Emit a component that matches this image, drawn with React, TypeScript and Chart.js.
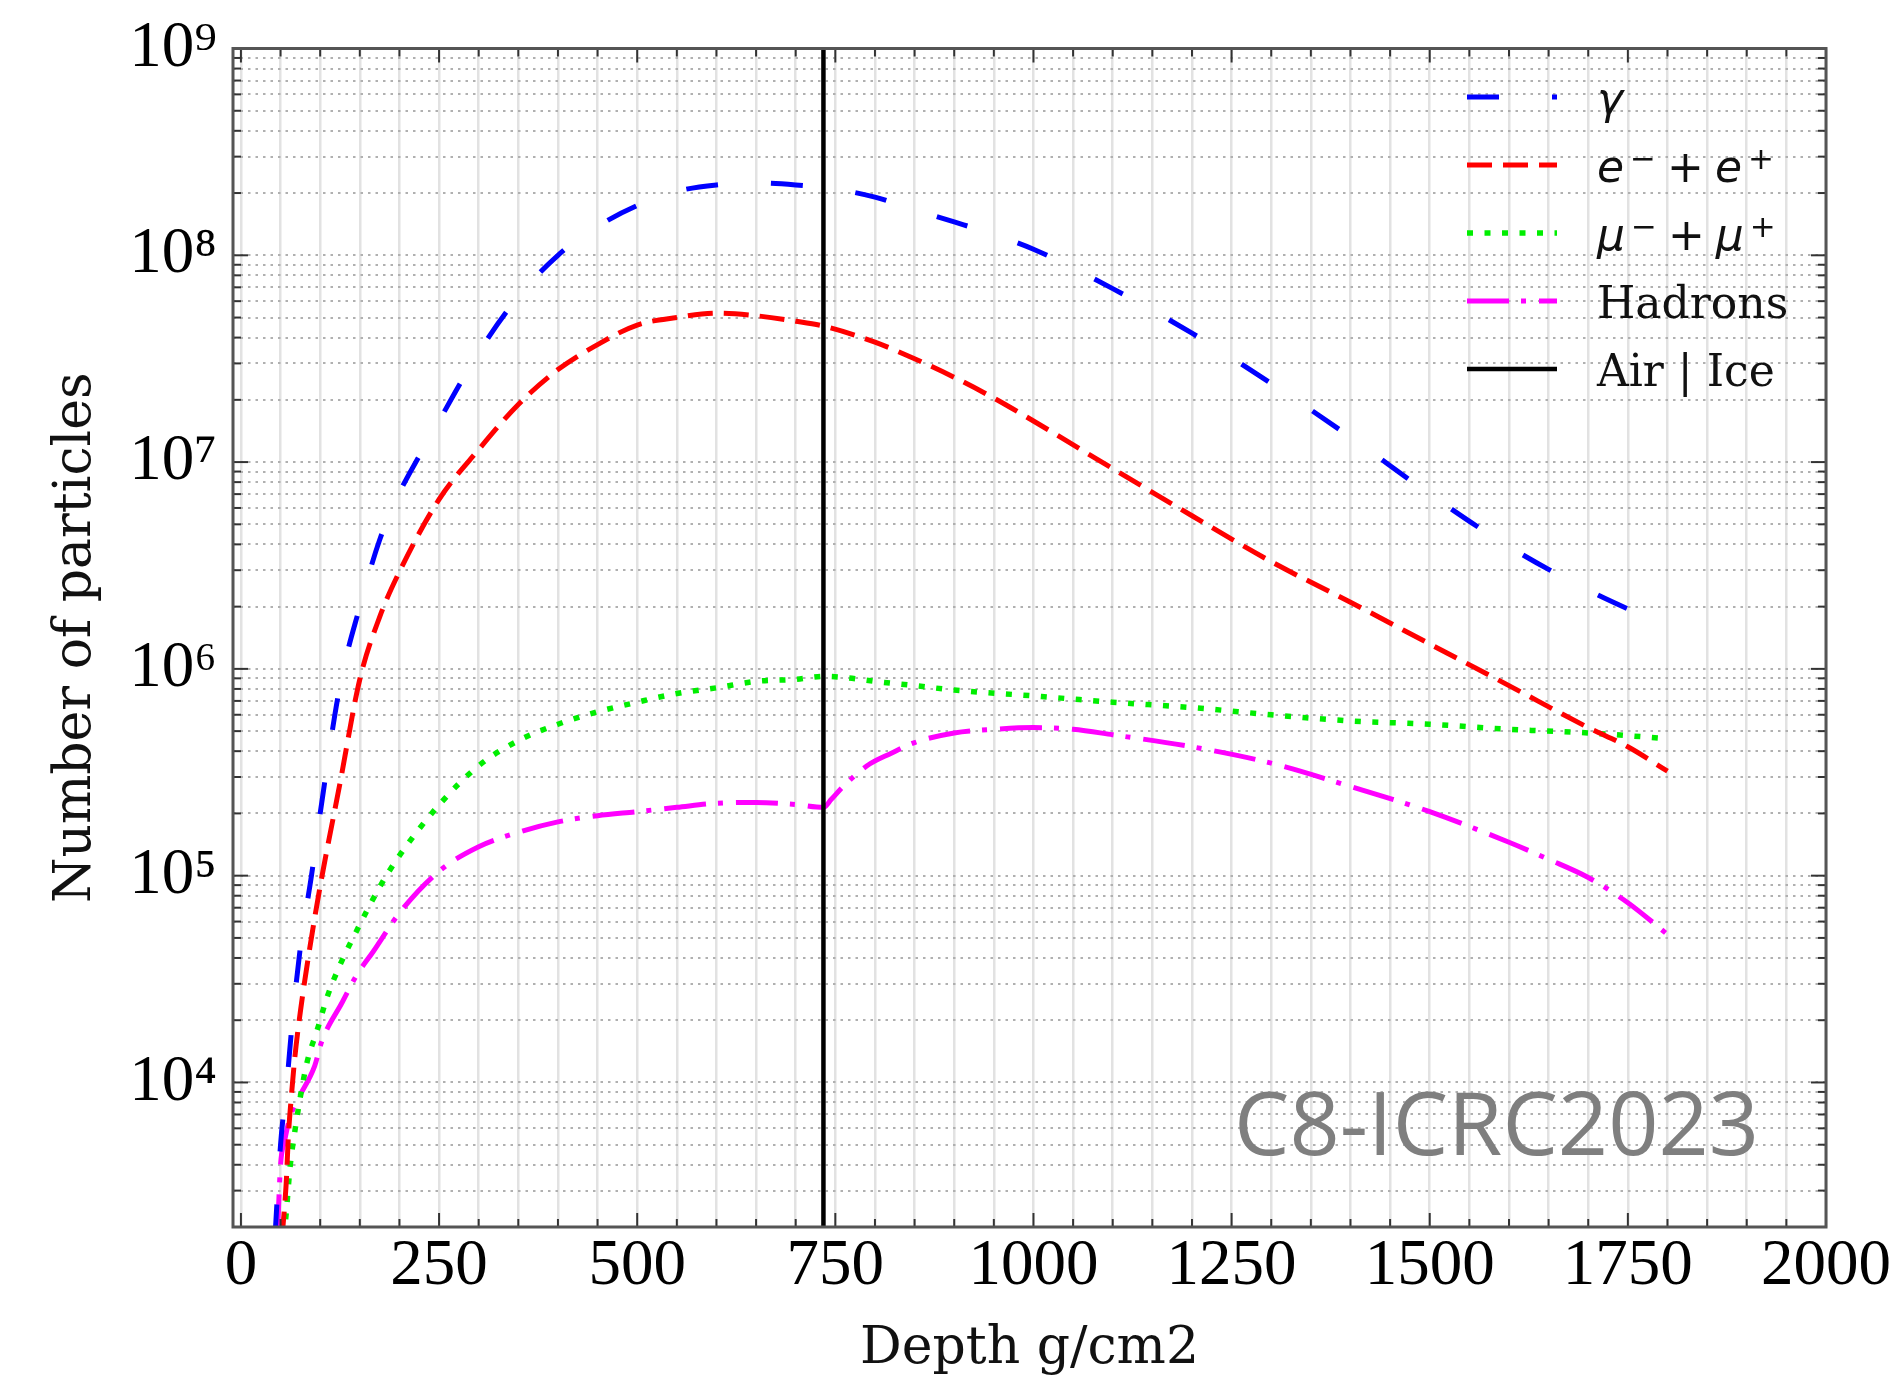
import React, { useEffect, useRef } from 'react';
import { Chart, registerables } from 'chart.js';

Chart.register(...registerables);

// ---------------- data ----------------
const gammaDepth = [43, 50, 58, 65, 75, 89, 100, 125, 150, 175, 200, 225, 250, 275, 300, 350, 400, 450, 500, 550, 600, 650, 700, 750, 800, 850, 900, 950, 1000, 1100, 1200, 1300, 1400, 1500, 1600, 1700, 1800];
const gammaCount = [1.8e3, 5.0e3, 1.0e4, 2.0e4, 4.5e4, 1.0e5, 2.0e5, 8.3e5, 2.0e6, 4.2e6, 7.1e6, 1.07e7, 1.58e7, 2.34e7, 3.4e7, 6.3e7, 1.0e8, 1.38e8, 1.74e8, 2.04e8, 2.19e8, 2.24e8, 2.19e8, 2.09e8, 1.91e8, 1.66e8, 1.45e8, 1.26e8, 1.07e8, 6.9e7, 4.2e7, 2.4e7, 1.32e7, 7.0e6, 3.9e6, 2.4e6, 1.6e6];

const electronDepth = [52, 57, 60, 64, 68, 75, 87, 100, 125, 150, 175, 200, 250, 300, 350, 400, 450, 500, 550, 600, 650, 700, 740, 800, 850, 900, 950, 1000, 1100, 1200, 1300, 1400, 1500, 1600, 1700, 1750, 1800];
const electronCount = [1.8e3, 3.2e3, 5.6e3, 8.9e3, 1.32e4, 2.2e4, 4.5e4, 8.9e4, 2.8e5, 8.9e5, 1.78e6, 2.95e6, 6.6e6, 1.15e7, 1.9e7, 2.8e7, 3.7e7, 4.6e7, 5.0e7, 5.25e7, 5.1e7, 4.8e7, 4.5e7, 3.8e7, 3.16e7, 2.57e7, 2.04e7, 1.58e7, 9.3e6, 5.5e6, 3.3e6, 2.1e6, 1.32e6, 8.3e5, 5.2e5, 4.2e5, 3.2e5];

const muonDepth = [53, 56, 62, 68, 83, 96, 109, 125, 150, 175, 200, 250, 300, 350, 400, 450, 500, 550, 600, 650, 700, 735, 760, 800, 850, 900, 1000, 1100, 1200, 1300, 1400, 1500, 1600, 1700, 1800];
const muonCount = [1.8e3, 2.1e3, 3.9e3, 5.8e3, 1.23e4, 1.78e4, 2.6e4, 3.7e4, 5.8e4, 8.8e4, 1.25e5, 2.2e5, 3.4e5, 4.5e5, 5.4e5, 6.2e5, 6.9e5, 7.6e5, 8.1e5, 8.7e5, 8.9e5, 9.2e5, 9.1e5, 8.7e5, 8.3e5, 7.9e5, 7.4e5, 6.9e5, 6.5e5, 6.0e5, 5.6e5, 5.4e5, 5.1e5, 4.9e5, 4.6e5];

const hadronDepth = [46, 50, 55, 62, 72, 93, 102, 128, 146, 167, 200, 250, 300, 350, 400, 450, 500, 550, 600, 650, 700, 735, 745, 760, 790, 820, 850, 900, 950, 1000, 1050, 1100, 1200, 1300, 1400, 1500, 1600, 1650, 1700, 1750, 1800];
const hadronCount = [1.8e3, 4.0e3, 5.2e3, 6.8e3, 8.3e3, 1.2e4, 1.58e4, 2.45e4, 3.3e4, 4.3e4, 6.6e4, 1.05e5, 1.38e5, 1.62e5, 1.82e5, 1.95e5, 2.04e5, 2.14e5, 2.24e5, 2.26e5, 2.21e5, 2.14e5, 2.34e5, 2.7e5, 3.4e5, 3.9e5, 4.4e5, 4.9e5, 5.1e5, 5.2e5, 5.1e5, 4.8e5, 4.2e5, 3.5e5, 2.7e5, 2.04e5, 1.45e5, 1.2e5, 9.8e4, 7.4e4, 5.2e4];

const airIceDepth = 735;

const seriesLabels = ['γ', 'e^- + e^+', 'μ^- + μ^+', 'Hadrons', 'Air | Ice'];

const xTickValues = [0, 250, 500, 750, 1000, 1250, 1500, 1750, 2000];
const xTickLabels = ['0', '250', '500', '750', '1000', '1250', '1500', '1750', '2000'];
const yMajorValues = [1e4, 1e5, 1e6, 1e7, 1e8, 1e9];
const yTickLabels = ['10⁴', '10⁵', '10⁶', '10⁷', '10⁸', '10⁹'];

const X_MIN = -10;
const X_MAX = 2000;
const Y_MIN = 2000;
const Y_MAX = 1e9;

const xAxisTitle = 'Depth g/cm2';
const yAxisTitle = 'Number of particles';
const watermark = 'C8-ICRC2023';

// ---------------- helpers ----------------
const toPoints = (xs: number[], ys: number[]) => xs.map((x, i) => ({ x, y: ys[i] }));

const xMinorValues: number[] = [];
for (let v = 0; v <= 2000; v += 50) xMinorValues.push(v);

const yAllValues: number[] = [];
for (let e = 3; e <= 9; e++) {
  for (let m = 1; m <= 9; m++) {
    const v = m * Math.pow(10, e);
    if (v >= Y_MIN && v <= Y_MAX) yAllValues.push(v);
  }
}
const isYMajor = (v: number) => {
  const l = Math.log10(v);
  return Math.abs(l - Math.round(l)) < 1e-9;
};

function drawMathLabel(ctx: CanvasRenderingContext2D, text: string, x: number, baseline: number) {
  let cx = x;
  for (let i = 0; i < text.length; i++) {
    const ch = text[i];
    if (ch === '^') {
      const s = text[++i];
      const sup = s === '-' ? '−' : s;
      ctx.font = '31px "DejaVu Sans"';
      cx += 6;
      ctx.fillText(sup, cx, baseline - 13);
      cx += ctx.measureText(sup).width;
      continue;
    }
    if (ch === ' ') {
      cx += 11;
      continue;
    }
    if (ch === '+') {
      ctx.font = '44px "DejaVu Sans"';
      ctx.fillText('+', cx, baseline);
      cx += ctx.measureText('+').width;
      continue;
    }
    ctx.font = 'italic 44px "DejaVu Sans"';
    ctx.fillText(ch, cx, baseline);
    cx += ctx.measureText(ch).width;
  }
}

const framePlugin = {
  id: 'frameTicksLegend',
  afterDatasetsDraw(chart: any) {
    const { ctx, chartArea: a, scales } = chart;
    const xs = scales.x;
    const ys = scales.y;
    ctx.save();
    ctx.strokeStyle = '#333';
    ctx.lineWidth = 2;
    ctx.setLineDash([]);
    const seg = (x1: number, y1: number, x2: number, y2: number) => {
      ctx.beginPath();
      ctx.moveTo(x1, y1);
      ctx.lineTo(x2, y2);
      ctx.stroke();
    };
    xs.ticks.forEach((t: any) => {
      const px = xs.getPixelForValue(t.value);
      if (px < a.left - 0.5 || px > a.right + 0.5) return;
      const len = xTickValues.includes(t.value) ? 14 : 8;
      seg(px, a.bottom, px, a.bottom - len);
      seg(px, a.top, px, a.top + len);
    });
    ys.ticks.forEach((t: any) => {
      const py = ys.getPixelForValue(t.value);
      if (py < a.top - 0.5 || py > a.bottom + 0.5) return;
      const len = isYMajor(t.value) ? 15 : 8;
      seg(a.left, py, a.left + len, py);
      seg(a.right, py, a.right - len, py);
    });
    ctx.strokeStyle = '#555';
    ctx.lineWidth = 3;
    ctx.strokeRect(a.left, a.top, a.right - a.left, a.bottom - a.top);
    ctx.restore();
  },
  afterDraw(chart: any) {
    const { ctx } = chart;
    ctx.save();
    // legend
    const lineX0 = 1467;
    const lineX1 = 1557;
    const textX = 1597;
    const rowY0 = 97;
    const rowStep = 68;
    chart.data.datasets.forEach((ds: any, i: number) => {
      const y = rowY0 + i * rowStep;
      ctx.save();
      ctx.strokeStyle = ds.borderColor;
      ctx.lineWidth = ds.borderWidth;
      ctx.lineCap = 'butt';
      ctx.setLineDash(ds.borderDash || []);
      ctx.beginPath();
      ctx.moveTo(lineX0, y);
      ctx.lineTo(lineX1, y);
      ctx.stroke();
      ctx.restore();
      ctx.fillStyle = '#111';
      ctx.textBaseline = 'alphabetic';
      ctx.textAlign = 'left';
      const label: string = ds.label;
      if (/[\^γμ]/.test(label)) {
        drawMathLabel(ctx, label, textX, y + 17);
      } else {
        ctx.font = '44px "DejaVu Serif"';
        ctx.fillText(label, textX, y + 17);
      }
    });
    // watermark
    ctx.font = '88px "Open Sans"';
    ctx.fillStyle = '#7f7f7f';
    ctx.textAlign = 'left';
    ctx.textBaseline = 'alphabetic';
    ctx.fillText(watermark, 1234, 1155);
    ctx.restore();
  },
};

export default function App() {
  const ref = useRef<HTMLCanvasElement>(null);

  useEffect(() => {
    const canvas = ref.current;
    if (!canvas) return;
    const common = {
      pointRadius: 0,
      pointHoverRadius: 0,
      fill: false,
      borderCapStyle: 'butt',
      cubicInterpolationMode: 'monotone',
    };
    const chart = new Chart(canvas, {
      type: 'line',
      data: {
        datasets: [
          { ...common, label: seriesLabels[0], data: toPoints(gammaDepth, gammaCount), borderColor: '#0000ff', borderWidth: 5, borderDash: [32, 53] },
          { ...common, label: seriesLabels[1], data: toPoints(electronDepth, electronCount), borderColor: '#ff0000', borderWidth: 5, borderDash: [25, 11] },
          { ...common, label: seriesLabels[2], data: toPoints(muonDepth, muonCount), borderColor: '#00ee00', borderWidth: 5.5, borderDash: [6, 11.5] },
          { ...common, label: seriesLabels[3], data: toPoints(hadronDepth, hadronCount), borderColor: '#ff00ff', borderWidth: 5, borderDash: [42, 12, 5, 13] },
          { ...common, label: seriesLabels[4], data: [{ x: airIceDepth, y: Y_MIN }, { x: airIceDepth, y: Y_MAX }], borderColor: '#000000', borderWidth: 4.5, borderDash: [], order: -1, cubicInterpolationMode: 'default', tension: 0 },
        ] as any,
      },
      options: {
        responsive: false,
        maintainAspectRatio: false,
        devicePixelRatio: 1,
        animation: false,
        events: [],
        layout: { padding: { left: 0, right: 75, top: 40, bottom: 0 } },
        plugins: {
          legend: { display: false },
          tooltip: { enabled: false },
          title: { display: false },
        },
        scales: {
          x: {
            type: 'linear',
            min: X_MIN,
            max: X_MAX,
            afterBuildTicks: (s: any) => {
              s.ticks = xMinorValues.map((v) => ({ value: v }));
            },
            afterFit: (s: any) => {
              s.height = 148;
            },
            ticks: {
              autoSkip: false,
              maxRotation: 0,
              minRotation: 0,
              padding: 7,
              color: '#000',
              font: { family: '"Liberation Serif"', size: 65, lineHeight: 1 },
              callback: (v: any) => {
                const idx = xTickValues.indexOf(Number(v));
                return idx >= 0 ? xTickLabels[idx] : '';
              },
            },
            grid: { color: '#e2e2e2', lineWidth: 2.5, drawTicks: false },
            border: { display: false },
            title: {
              display: true,
              text: xAxisTitle,
              color: '#111',
              font: { family: '"DejaVu Serif"', size: 52, lineHeight: 1 },
              padding: { top: 13, bottom: 0 },
            },
          },
          y: {
            type: 'logarithmic',
            min: Y_MIN,
            max: Y_MAX,
            afterBuildTicks: (s: any) => {
              s.ticks = yAllValues.map((v) => ({ value: v }));
            },
            afterFit: (s: any) => {
              s.width = 233;
            },
            ticks: {
              autoSkip: false,
              padding: 16,
              color: '#000',
              font: { family: '"Liberation Serif"', size: 65, lineHeight: 1 },
              callback: (v: any) => {
                const n = Number(v);
                for (let i = 0; i < yMajorValues.length; i++) {
                  if (Math.abs(yMajorValues[i] - n) / yMajorValues[i] < 1e-9) return yTickLabels[i];
                }
                return '';
              },
            },
            grid: { color: '#b0b0b0', lineWidth: 2, drawTicks: false },
            border: { display: false, dash: [2.5, 5] },
            title: {
              display: true,
              text: yAxisTitle,
              color: '#111',
              font: { family: '"DejaVu Serif"', size: 52, lineHeight: 1 },
              padding: { top: 50, bottom: 0 },
            },
          },
        },
      } as any,
      plugins: [framePlugin],
    } as any);
    return () => chart.destroy();
  }, []);

  return (
    <div style={{ position: 'absolute', left: 0, top: 0, width: 1901, height: 1375, background: '#ffffff' }}>
      <canvas ref={ref} width={1901} height={1375} style={{ display: 'block', width: 1901, height: 1375 }} />
    </div>
  );
}
